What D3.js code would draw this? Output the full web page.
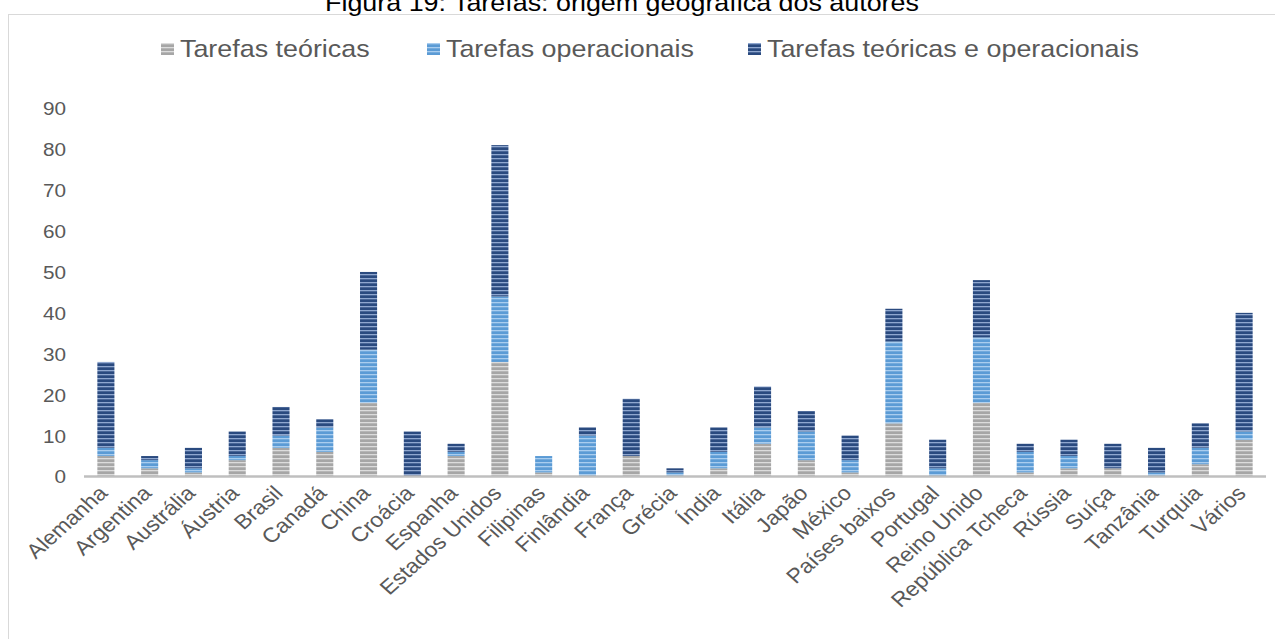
<!DOCTYPE html>
<html>
<head>
<meta charset="utf-8">
<script src="https://cdn.jsdelivr.net/npm/d3@7"></script>
<style>
  html, body { margin: 0; padding: 0; background: #fff; }
  svg { display: block; font-family: "Liberation Sans", Arial, sans-serif; }
</style>
</head>
<body>
<svg id="chart" width="1275" height="639"></svg>
<script>
// Origem geográfica dos autores, por tipo de tarefa
const paises = ["Alemanha", "Argentina", "Austrália", "Áustria", "Brasil", "Canadá", "China", "Croácia",
  "Espanha", "Estados Unidos", "Filipinas", "Finlândia", "França", "Grécia", "Índia", "Itália", "Japão",
  "México", "Países baixos", "Portugal", "Reino Unido", "República Tcheca", "Rússia", "Suíça",
  "Tanzânia", "Turquia", "Vários"];
const teoricas     = [5, 2, 1, 4, 7, 6, 18, 0, 5, 28, 1, 0, 5, 0, 2, 8, 4, 1, 13, 0, 18, 1, 2, 2, 0, 3, 9];
const operacionais = [2, 2, 1, 1, 3, 6, 13, 0, 1, 16, 4, 10, 0, 1, 4, 4, 7, 3, 20, 2, 16, 5, 3, 0, 1, 4, 2];
const ambas        = [21, 1, 5, 6, 7, 2, 19, 11, 2, 37, 0, 2, 14, 1, 6, 10, 5, 6, 8, 7, 14, 2, 4, 6, 6, 6, 29];
const series = ["Tarefas teóricas", "Tarefas operacionais", "Tarefas teóricas e operacionais"];
const yTicks = [0, 10, 20, 30, 40, 50, 60, 70, 80, 90];

const W = 1275, H = 639;
const SX = 1.12; // text is drawn slightly widened
const svg = d3.select("#chart");

// striped fills (horizontal line pattern)
const fills = [
  { id: "pTeo", base: "#a6a6a6", stripe: "#dcdcdc" },
  { id: "pOpe", base: "#5b9bd5", stripe: "#a9cdef" },
  { id: "pAmb", base: "#2a4a7f", stripe: "#8fa7cf" }
];
const defs = svg.append("defs");
fills.forEach(f => {
  const p = defs.append("pattern").attr("id", f.id).attr("patternUnits", "userSpaceOnUse")
    .attr("width", 8).attr("height", 4);
  p.append("rect").attr("width", 8).attr("height", 4).attr("fill", f.base);
  p.append("rect").attr("y", 2).attr("width", 8).attr("height", 1.3).attr("fill", f.stripe);
});

// chart frame
svg.append("rect").attr("x", 8.5).attr("y", 14.5).attr("width", W + 10).attr("height", H)
  .attr("fill", "none").attr("stroke", "#d9d9d9").attr("stroke-width", 1);

// title
svg.append("g").attr("transform", `translate(622,11) scale(${SX},1)`)
  .append("text").attr("text-anchor", "middle")
  .attr("font-size", 24).attr("fill", "#000")
  .text("Figura 19: Tarefas: origem geográfica dos autores");

const x = d3.scaleBand().domain(paises).range([84, 1266]).paddingInner(0.61).paddingOuter(0.305);
const y = d3.scaleLinear().domain([0, 90]).range([476.5, 108.3]);

const rows = paises.map((p, i) => ({
  pais: p,
  [series[0]]: teoricas[i],
  [series[1]]: operacionais[i],
  [series[2]]: ambas[i]
}));
const stacked = d3.stack().keys(series)(rows);

svg.append("g").selectAll("g").data(stacked).join("g")
  .attr("fill", (d, i) => `url(#${fills[i].id})`)
  .selectAll("rect").data(d => d).join("rect")
  .attr("x", d => x(d.data.pais))
  .attr("y", d => y(d[1]))
  .attr("width", x.bandwidth())
  .attr("height", d => y(d[0]) - y(d[1]));

// y axis labels
const yAxis = svg.append("g").attr("transform", "translate(66,0)")
  .call(d3.axisLeft(y).tickValues(yTicks).tickSize(0).tickPadding(0));
yAxis.select(".domain").remove();
yAxis.selectAll(".tick text")
  .attr("font-size", 18.5).attr("fill", "#595959")
  .attr("font-family", "Liberation Sans, Arial, sans-serif")
  .attr("x", null).attr("dy", "0.35em")
  .attr("transform", `scale(${SX},1)`);

// baseline
svg.append("line").attr("x1", 84).attr("x2", 1266).attr("y1", y(0)).attr("y2", y(0))
  .attr("stroke", "#bfbfbf").attr("stroke-width", 2.5);

// category labels, rotated
const xAxis = svg.append("g").attr("transform", `translate(0,${y(0)})`)
  .call(d3.axisBottom(x).tickSize(0).tickPadding(0));
xAxis.select(".domain").remove();
xAxis.selectAll(".tick text")
  .attr("font-size", 20.5).attr("fill", "#595959")
  .attr("font-family", "Liberation Sans, Arial, sans-serif")
  .attr("text-anchor", "end")
  .attr("y", null).attr("dy", null)
  .attr("transform", `translate(3,18) scale(${SX},1) rotate(-45)`);

// legend
const legSq = [161, 427, 748];
const leg = svg.append("g");
series.forEach((s, i) => {
  const g = leg.append("g").attr("transform", `translate(${legSq[i]},49)`);
  g.append("rect").attr("x", 0).attr("y", -6).attr("width", 13).attr("height", 12)
    .attr("fill", `url(#${fills[i].id})`);
  g.append("g").attr("transform", `translate(19,0) scale(${SX},1)`)
    .append("text").attr("dy", "0.35em")
    .attr("font-size", 24).attr("fill", "#595959").text(s);
});
</script>
</body>
</html>
